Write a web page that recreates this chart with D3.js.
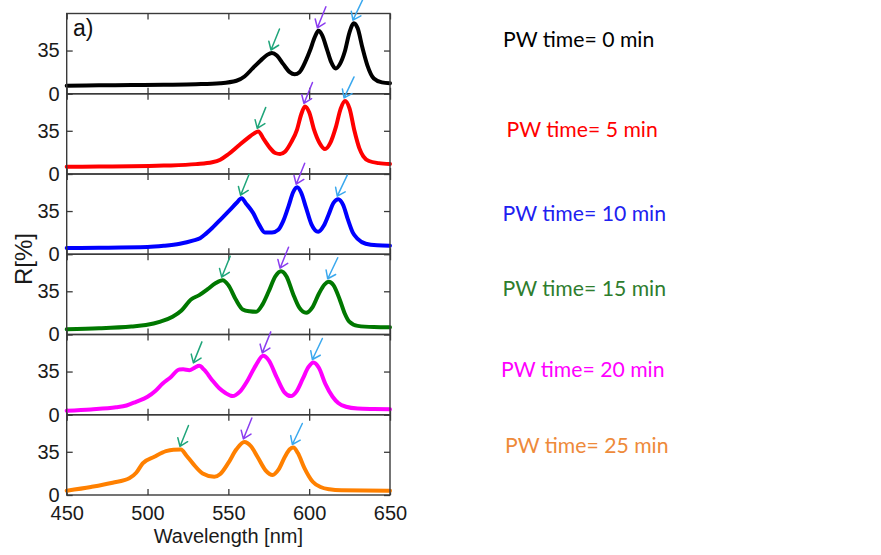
<!DOCTYPE html>
<html>
<head>
<meta charset="utf-8">
<script src="https://cdn.jsdelivr.net/npm/d3@7"></script>
<style>
  html, body { margin: 0; padding: 0; background: #ffffff; }
  svg { display: block; }
</style>
</head>
<body>
<svg id="chart" width="881" height="555"></svg>
<script>
// Reflectance spectra R[%] vs wavelength [nm] for increasing PW time
const pwTimes = [0, 5, 10, 15, 20, 25];

const spectrum0 = [[450,6.5],[470,6.8],[490,7.0],[510,7.3],[530,7.7],[545,8.5],[555,10.5],[560,14],[565,20.5],[570,27],[574,31.5],[577,33],[580,31],[584,24],[588,17.5],[591,15.8],[594,17.5],[598,27],[600.5,35],[603.5,46],[605.7,51],[608,47.5],[611,36],[613.5,26],[616.5,20.4],[619,24],[622,34],[625,50],[627.7,57.2],[630,53],[633,37],[636,23],[640,12.3],[645,9.2],[650,8.6]];
const spectrum5 = [[450,5.9],[470,6.0],[490,6.2],[510,6.8],[530,8.0],[540,9.5],[545,11.6],[550,16],[557,23.7],[562,29],[565.5,32.5],[568.5,34.5],[572,28],[575.8,21],[579,17],[582,16.2],[585,18],[589,26],[592.5,36],[595,48],[597.4,54.7],[600,50],[603,36],[606.5,25],[609.8,20.2],[613,25],[616.5,38],[619.5,53],[622.2,59.2],[625,53],[628,35],[631,21],[633.5,14.3],[637,10.5],[643,8.8],[650,8.1]];
const spectrum10 = [[450,5.0],[470,5.2],[500,5.8],[510,6.8],[520,8.5],[528,11],[532.5,13],[536,16.5],[539,20],[545,27.9],[551,36],[555,41.5],[558.2,45.4],[561,41],[565.4,33.3],[569,24],[572.6,17.6],[577,17.6],[580.9,19.8],[584,27],[587.5,40],[590,50],[592.6,54.3],[595,50],[598,38],[601.5,24],[605.6,18.2],[609,23],[612,32],[615,41.5],[618,44.6],[621,40],[624,28],[627,17.5],[630,12.5],[635,8.5],[642,7.2],[650,6.9]];
const spectrum15 = [[450,4.2],[470,5.0],[490,6.5],[499,7.7],[508,10.5],[515.5,14.4],[521,19.5],[526.9,28.4],[532,31.9],[537,36.5],[542,41.5],[546.5,44],[550,40],[554.8,27.9],[558.9,20.3],[563,18.8],[567.2,18.4],[571,24],[575,35],[579,47],[582.6,51.3],[586,47],[590,33],[594,21.5],[598.1,17.6],[602,22],[606,33],[609.5,40.5],[612.1,42.7],[615,40],[619,28],[622,17],[624.8,10.4],[630,7],[640,6],[650,5.8]];
const spectrum20 = [[450,3.3],[465,4.3],[480.5,6],[487,7.5],[492.9,10.5],[500,14.6],[505,19.5],[509.4,25.4],[514,30],[519.7,36.7],[522,36.8],[525.9,36.1],[529,38],[532,39.6],[535,36.5],[540,28],[544.4,21.4],[548,17.8],[552.6,15.1],[557,18.5],[562,28],[567,40],[571.6,47.7],[575,44],[580,30],[584.5,18.5],[588.7,15.1],[592,18.5],[596,29],[599.5,38.5],[602.6,42.3],[606,38],[610,25],[614.5,14.6],[618,9.5],[622.8,6.5],[630,5],[640,4.6],[650,4.4]];
const spectrum25 = [[450,3.5],[465,6.5],[478.4,9.9],[488.7,13.5],[493,18],[497,25.6],[504.2,30.9],[511.4,35.5],[516,36.7],[520.7,36.9],[524,32],[528,25.6],[534.1,17.5],[541.3,14.8],[545,17],[550,26],[555,37],[559.9,43],[564,39.5],[568,31],[573,20],[577.4,16.2],[581,20.5],[585,31],[588,37],[590.2,38.5],[593,34],[597,22],[602.2,10.7],[607,6.5],[612.5,4.6],[620,3.8],[650,3.5]];
const spectra = [spectrum0, spectrum5, spectrum10, spectrum15, spectrum20, spectrum25];

// Marked peaks [wavelength, R] per spectrum: short-, middle-, long-wavelength band
const peaks0 = [[577,33],[605.7,51],[627.7,57.2]];
const peaks5 = [[568.5,34.5],[597.4,54.7],[622.2,59.2]];
const peaks10 = [[558.2,45.4],[592.6,54.3],[618,44.6]];
const peaks15 = [[546.5,44],[582.6,51.3],[612.1,42.7]];
const peaks20 = [[529,39.6],[571.6,47.7],[602.6,42.3]];
const peaks25 = [[520.7,36.9],[559.9,43],[590.2,38.5]];
const peaks = [peaks0, peaks5, peaks10, peaks15, peaks20, peaks25];

const lineColors = ["#000000", "#ff0000", "#0000ff", "#007800", "#ff00ff", "#ff8000"];
const legendColors = ["#000000", "#ff0000", "#2020f0", "#2e7d2e", "#ff00ff", "#ee8a3a"];
const arrowColors = ["#1fa57a", "#8a3cf0", "#3aa8ee"];

const xTickValues = [450, 500, 550, 600, 650];
const yTickValues = [0, 35];
const xDomain = [450, 650];
const yDomain = [0, 65];

// ---- layout ----
const svg = d3.select("#chart");
const plotLeft = 66.7, plotRight = 390, plotTop = 13.5, plotBottom = 495;
const axisFont = "'Liberation Sans', Arial, sans-serif";
const legendFont = "Lato, 'Open Sans', sans-serif";
const legendPos = [[503, 47.3], [506.5, 136.7], [502.5, 221], [502.5, 295.7], [501, 376.7], [505, 453.3]];

const x = d3.scaleLinear().domain(xDomain).range([plotLeft, plotRight]);
const band = d3.scaleBand().domain(pwTimes).range([plotTop, plotBottom]).padding(0);
const H = band.bandwidth();
const yLocal = d3.scaleLinear().domain(yDomain).range([H, 0]);

const line = d3.line()
  .x(d => x(d[0]))
  .y(d => yLocal(d[1]))
  .curve(d3.curveMonotoneX);

pwTimes.forEach((t, i) => {
  const g = svg.append("g").attr("transform", `translate(0,${band(t)})`);

  // inward ticks on all four sides
  const axB = d3.axisBottom(x).tickValues(xTickValues).tickSize(-6)
    .tickPadding(11).tickFormat(i === pwTimes.length - 1 ? d3.format("d") : () => "");
  const axT = d3.axisTop(x).tickValues(xTickValues).tickSize(-6).tickFormat(() => "");
  const axL = d3.axisLeft(yLocal).tickValues(yTickValues).tickSize(-6).tickPadding(7).tickFormat(d3.format("d"));
  const axR = d3.axisRight(yLocal).tickValues(yTickValues).tickSize(-6).tickFormat(() => "");

  [[axB, H, 0], [axT, 0, 0], [axL, 0, plotLeft], [axR, 0, plotRight]].forEach(([ax, dy, dx]) => {
    const a = g.append("g").attr("transform", `translate(${dx},${dy})`).call(ax);
    a.select(".domain").remove();
    a.selectAll(".tick line").attr("stroke", "#3a3a3a").attr("stroke-width", 1.3);
    a.selectAll(".tick text").attr("font-family", axisFont).attr("font-size", 20).attr("fill", "#1a1a1a");
  });

  // spectrum
  g.append("path")
    .datum(spectra[i])
    .attr("d", line)
    .attr("fill", "none")
    .attr("stroke", lineColors[i])
    .attr("stroke-width", 4)
    .attr("stroke-linejoin", "round")
    .attr("stroke-linecap", "round");

  // panel frame
  g.append("rect")
    .attr("x", plotLeft).attr("y", 0)
    .attr("width", plotRight - plotLeft).attr("height", H)
    .attr("fill", "none").attr("stroke", "#3a3a3a").attr("stroke-width", 1.4);

  // peak arrows
  peaks[i].forEach((p, k) => {
    const tipX = x(p[0]) - 1, tipY = yLocal(p[1]) - 3;
    const vx = k === 2 ? 10 : 8.5, vy = -21;
    const ang = Math.atan2(vy, vx);
    const barb = 9, spread = 36 * Math.PI / 180;
    const path = d3.path();
    path.moveTo(tipX + vx, tipY + vy);
    path.lineTo(tipX, tipY);
    path.moveTo(tipX + barb * Math.cos(ang - spread), tipY + barb * Math.sin(ang - spread));
    path.lineTo(tipX, tipY);
    path.lineTo(tipX + barb * Math.cos(ang + spread), tipY + barb * Math.sin(ang + spread));
    g.append("path")
      .attr("d", path.toString())
      .attr("fill", "none")
      .attr("stroke", arrowColors[k])
      .attr("stroke-width", 1.5)
      .attr("stroke-linecap", "round")
      .attr("stroke-linejoin", "round");
  });

  // legend entry
  svg.append("text")
    .attr("x", legendPos[i][0]).attr("y", legendPos[i][1])
    .attr("font-family", legendFont).attr("font-size", 21.2)
    .attr("fill", legendColors[i])
    .text(`PW time= ${t} min`);
});

// panel tag
svg.append("text")
  .attr("x", 73).attr("y", 36)
  .attr("font-family", axisFont).attr("font-size", 23).attr("fill", "#111")
  .text("a)");

// axis titles
svg.append("text")
  .attr("x", (plotLeft + plotRight) / 2).attr("y", 543)
  .attr("text-anchor", "middle")
  .attr("font-family", axisFont).attr("font-size", 20).attr("fill", "#1a1a1a")
  .text("Wavelength [nm]");

svg.append("text")
  .attr("transform", "translate(32,259) rotate(-90)")
  .attr("text-anchor", "middle")
  .attr("font-family", axisFont).attr("font-size", 24).attr("fill", "#1a1a1a")
  .text("R[%]");
</script>
</body>
</html>
